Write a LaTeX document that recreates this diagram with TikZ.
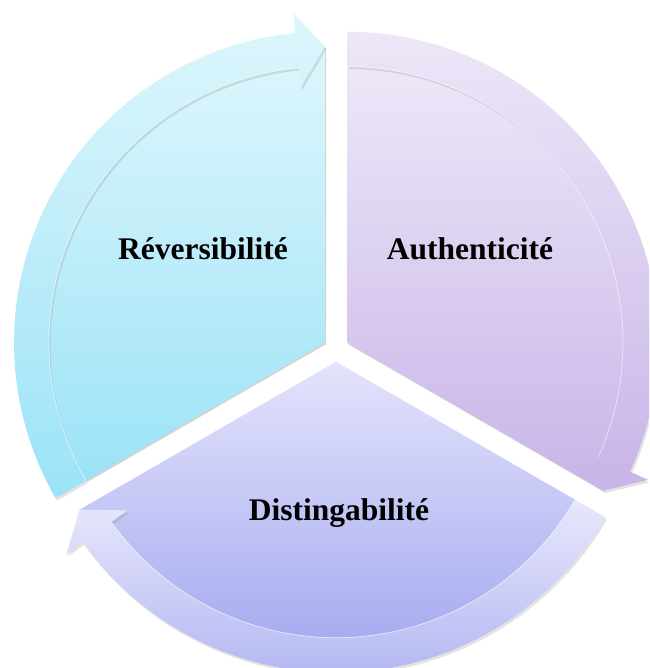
\documentclass[tikz,border=0pt]{standalone}
\usepackage{fontspec}
\setmainfont{Liberation Serif}
\usetikzlibrary{shadows}
\definecolor{cyanTop}{HTML}{DEF6FC}
\definecolor{cyanBot}{HTML}{9BE3F7}
\definecolor{purTop}{HTML}{EDE7F8}
\definecolor{purBot}{HTML}{C8B4E8}
\definecolor{bluTop}{HTML}{E4E4FC}
\definecolor{bluBot}{HTML}{A8ACF0}
\definecolor{bandTop}{HTML}{E8E8FB}
\definecolor{bandBot}{HTML}{B4B8F2}
\tikzset{
  lbl/.style={font=\bfseries\fontsize{31.5}{36}\selectfont, text=black, inner sep=0pt},
  pieshape/.style={drop shadow={shadow xshift=1pt, shadow yshift=-1.5pt, opacity=0.35}},
  bandshape/.style={drop shadow={shadow xshift=1.5pt, shadow yshift=-2.5pt, opacity=0.22}},
  innerline/.style={white, opacity=0.55, line width=0.8pt}
}
% #1 offset angle, #2 arrow-end angle, #3 #4 pie colours, #5 #6 band colours
\newcommand\mysegment[6]{%
  \begin{scope}[shift={(#1:12.7)}]
    \pgfmathsetmacro\sA{#2+120}
    \pgfmathsetmacro\hA{#2+5.5}
    \path[pieshape, top color=#3, bottom color=#4]
      (0,0) -- (\sA:276) arc[start angle=\sA, end angle=\hA, radius=276pt]
      -- (#2:296) -- cycle;
    \path[bandshape, top color=#5, bottom color=#6]
      (\sA:311) arc[start angle=\sA, end angle=\hA, radius=311pt]
      -- (\hA:331) -- (#2:296) -- (\hA:256) -- (\hA:276)
      arc[start angle=\hA, end angle=\sA, radius=276pt] -- cycle;
    \draw[innerline] (\sA:276) arc[start angle=\sA, end angle=\hA, radius=276pt];
  \end{scope}}
\begin{document}
\begin{tikzpicture}[x=1pt,y=1pt]
  \useasboundingbox (-336,-319) rectangle (313,349);
  \clip (-336,-319) rectangle (313,349);
  \mysegment{150}{90}{cyanTop}{cyanBot}{cyanTop}{cyanBot}
  \mysegment{30}{-30}{purTop}{purBot}{purTop}{purBot}
  \mysegment{270}{210}{bluTop}{bluBot}{bandTop}{bandBot}
  \node[lbl, anchor=base] (rev) at (-133,89) {Réversibilité};
  \node[lbl, anchor=base] (aut) at (134,89) {Authenticité};
  \node[lbl, anchor=base] (dis) at (3,-171) {Distingabilité};
\end{tikzpicture}
\end{document}
